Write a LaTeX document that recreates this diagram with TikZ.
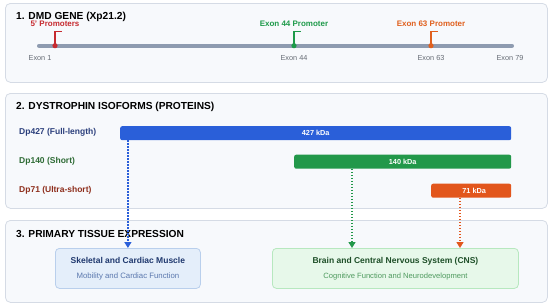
\documentclass[tikz,border=0pt]{standalone}
\usepackage{fontspec}
\setmainfont{Liberation Sans}
\usetikzlibrary{arrows.meta}
\definecolor{panelfill}{HTML}{F7F9FC}
\definecolor{panelline}{HTML}{D5DBE5}
\definecolor{geneline}{HTML}{8E9BB0}
\definecolor{exongray}{HTML}{666C75}
\definecolor{pred}{HTML}{C62A2F}
\definecolor{pgreen}{HTML}{1E9A4A}
\definecolor{porange}{HTML}{E0601E}
\definecolor{bblue}{HTML}{2A5FD9}
\definecolor{bgreen}{HTML}{22984A}
\definecolor{borange}{HTML}{E2561C}
\definecolor{lblue}{HTML}{2B3F7C}
\definecolor{lgreen}{HTML}{2E6B35}
\definecolor{lred}{HTML}{8E2E1C}
\definecolor{skfill}{HTML}{E4EEFA}
\definecolor{skline}{HTML}{B9CFEC}
\definecolor{sktitle}{HTML}{1F386E}
\definecolor{sksub}{HTML}{5B78AE}
\definecolor{cnsfill}{HTML}{E7F8EA}
\definecolor{cnsline}{HTML}{B7E8BF}
\definecolor{cnstitle}{HTML}{1E4F28}
\definecolor{cnssub}{HTML}{4E9A5E}
\begin{document}
\begin{tikzpicture}[x=1pt,y=-1pt,
  panel/.style={draw=panelline,fill=panelfill,line width=0.8pt,rounded corners=5pt},
  ptitle/.style={anchor=west,font=\bfseries\fontsize{10.2}{12}\selectfont,text=black,inner sep=0pt},
  exon/.style={font=\fontsize{7.3}{8}\selectfont,text=exongray,inner sep=0pt},
  promlab/.style={font=\bfseries\fontsize{8}{9}\selectfont,inner sep=0pt},
  isolab/.style={anchor=west,font=\bfseries\fontsize{8.5}{10}\selectfont,inner sep=0pt},
  bar/.style={rounded corners=2pt,minimum height=14pt,inner sep=0pt,text=white,font=\bfseries\fontsize{7.3}{8}\selectfont},
  tissue/.style={rounded corners=4pt,line width=0.8pt,inner sep=0pt,align=center},
  dotarrow/.style={line width=1.3pt,dash pattern=on 1.5pt off 1.5pt,-{Triangle[length=6pt,width=7pt]}},
]
\useasboundingbox (0,0) rectangle (550,306);
% panels
\node[panel,minimum width=542pt,minimum height=79pt,anchor=north west] (p1) at (5,3) {};
\node[panel,minimum width=542pt,minimum height=115pt,anchor=north west] (p2) at (5,93) {};
\node[panel,minimum width=542pt,minimum height=82pt,anchor=north west] (p3) at (5,220) {};
\node[ptitle] (t1) at (16,17) {1. DMD GENE (Xp21.2)};
\node[ptitle] (t2) at (16,107) {2. DYSTROPHIN ISOFORMS (PROTEINS)};
\node[ptitle] (t3) at (16,234) {3. PRIMARY TISSUE EXPRESSION};
% gene line
\coordinate (g1) at (39,45.7);
\coordinate (g79) at (512,45.7);
\draw[geneline,line width=4pt,line cap=round] (g1) -- (g79);
\node[exon] (e1) at (40,58) {Exon 1};
\node[exon] (e44) at (294,58) {Exon 44};
\node[exon] (e63) at (431,58) {Exon 63};
\node[exon] (e79) at (510,58) {Exon 79};
% promoters
\coordinate (m1) at (55,45.7);
\coordinate (m44) at (294,45.7);
\coordinate (m63) at (431,45.7);
\draw[pred,line width=1.3pt] (m1) -- ++(0,-14) -- ++(7,0);
\fill[pred] (m1) circle (2.6pt);
\draw[pgreen,line width=1.3pt] (m44) -- ++(0,-14) -- ++(7,0);
\fill[pgreen] (m44) circle (2.6pt);
\draw[porange,line width=1.3pt] (m63) -- ++(0,-14) -- ++(7,0);
\fill[porange] (m63) circle (2.6pt);
\node[promlab,text=pred] (l1) at (55,24) {5' Promoters};
\node[promlab,text=pgreen] (l44) at (294,24) {Exon 44 Promoter};
\node[promlab,text=porange] (l63) at (431,24) {Exon 63 Promoter};
% isoforms
\node[isolab,text=lblue] (i427) at (19,132) {Dp427 (Full-length)};
\node[isolab,text=lgreen] (i140) at (19,161) {Dp140 (Short)};
\node[isolab,text=lred] (i71) at (19,190) {Dp71 (Ultra-short)};
\node[bar,fill=bblue,minimum width=391pt,anchor=north west] (b427) at (120,126) {427 kDa};
\node[bar,fill=bgreen,minimum width=217pt,anchor=north west] (b140) at (294,154.5) {140 kDa};
\node[bar,fill=borange,minimum width=80pt,anchor=north west] (b71) at (431,183.5) {\hspace*{6pt}71 kDa};
% tissues
\node[tissue,draw=skline,fill=skfill,minimum width=145pt,minimum height=40pt,anchor=north west] (skel) at (55,248)
  {{\bfseries\fontsize{8.5}{10}\selectfont\color{sktitle}Skeletal and Cardiac Muscle}\\[3pt]{\fontsize{7.8}{9}\selectfont\color{sksub}Mobility and Cardiac Function}};
\node[tissue,draw=cnsline,fill=cnsfill,minimum width=246pt,minimum height=40pt,anchor=north west] (cns) at (272,248)
  {{\bfseries\fontsize{8.5}{10}\selectfont\color{cnstitle}Brain and Central Nervous System (CNS)}\\[3pt]{\fontsize{7.6}{9}\selectfont\color{cnssub}Cognitive Function and Neurodevelopment}};
% arrows
\coordinate (cg) at (352,248);
\coordinate (co) at (460,248);
\draw[dotarrow,bblue] (b427.south -| skel.north) -- (skel.north);
\draw[dotarrow,bgreen] (b140.south -| cg) -- (cg);
\draw[dotarrow,borange] (b71.south -| co) -- (co);
\end{tikzpicture}
\end{document}
